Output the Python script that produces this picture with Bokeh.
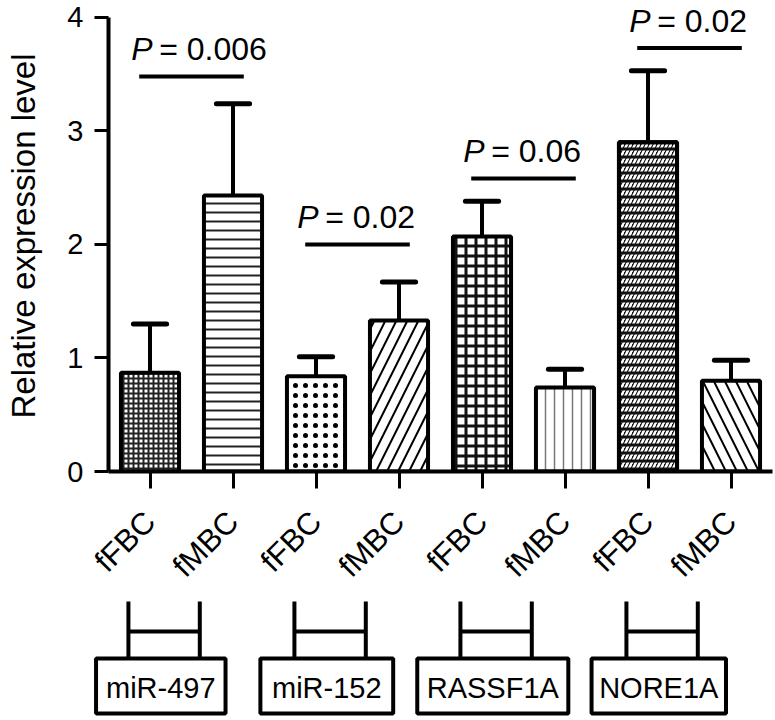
import math
from bokeh.plotting import figure
from bokeh.models import Range1d, FixedTicker, Label
from bokeh.core.properties import value
from bokeh.embed import file_html
from bokeh.resources import INLINE

# ---------------- data ----------------
groups = ["miR-497", "miR-152", "RASSF1A", "NORE1A"]
bar_labels = ["fFBC", "fMBC", "fFBC", "fMBC", "fFBC", "fMBC", "fFBC", "fMBC"]
means = [0.87, 2.43, 0.84, 1.33, 2.07, 0.74, 2.90, 0.80]
errors = [0.43, 0.81, 0.17, 0.34, 0.31, 0.16, 0.63, 0.18]
p_values = ["0.006", "0.02", "0.06", "0.02"]
p_line_y = [3.48, 2.00, 2.58, 3.73]
y_ticks = [0, 1, 2, 3, 4]

# ---------------- styles ----------------
FONT = "Liberation Sans"
hatch_patterns = ["cross", "horizontal_line", "dot", "right_diagonal_line",
                  "cross", "vertical_line", "right_diagonal_line", "left_diagonal_line"]
hatch_scales = [5, 9, 10, 22, 10, 9, 8, 22]
hatch_weights = [2.0, 2.0, 4.0, 2.0, 3.0, 1.5, 2.5, 2.0]
hatch_colors = ["#222222", "#222222", "black", "black", "#111111", "#777777", "white", "black"]
fill_colors = ["white", "white", "white", "white", "white", "white", "#111111", "white"]
# second hatch layer (None = no overlay)
overlay_patterns = [None, None, None, None, None, None, "horizontal_line", None]

W = 775
LEFT, RIGHT, BOTTOM = 108, 3, 124
AXIS_TOP_PX = 17          # where the top tick (4) sits
FRAME_H = 475             # frame runs from the canvas top to the x axis
H1 = FRAME_H + BOTTOM
H2 = 720 - H1

xs = list(range(1, len(means) + 1))
x_start, x_end = 0.5, len(means) + 0.5
y_start, y_top = 0, 4
ppu_y = (FRAME_H - AXIS_TOP_PX) / (y_top - y_start)
y_end = y_top + AXIS_TOP_PX / ppu_y

p = figure(width=W, height=H1, x_range=Range1d(x_start, x_end), y_range=Range1d(y_start, y_end),
           output_backend="svg", toolbar_location=None,
           min_border_left=LEFT, min_border_right=RIGHT, min_border_top=0,
           min_border_bottom=BOTTOM)
p.outline_line_color = None
p.xgrid.grid_line_color = None
p.ygrid.grid_line_color = None

# y axis
ya = p.yaxis[0]
ya.ticker = FixedTicker(ticks=y_ticks)
ya.bounds = (y_start, y_top)
ya.axis_label = "Relative expression level"
ya.axis_label_text_font = FONT
ya.axis_label_text_font_size = "33px"
ya.axis_label_text_font_style = "normal"
ya.axis_label_text_color = "black"
ya.axis_label_standoff = 22
ya.major_label_text_font = FONT
ya.major_label_text_font_size = "29px"
ya.major_label_text_color = "black"
ya.major_label_standoff = 11
ya.axis_line_width = 4
ya.axis_line_color = "black"
ya.major_tick_line_width = 3
ya.major_tick_out = 14
ya.major_tick_in = 0
ya.minor_tick_line_color = None

# x axis
xa = p.xaxis[0]
xa.ticker = FixedTicker(ticks=xs)
xa.major_label_overrides = {x: lab for x, lab in zip(xs, bar_labels)}
xa.major_label_orientation = math.pi / 4
xa.major_label_text_font = FONT
xa.major_label_text_font_size = "31px"
xa.major_label_text_color = "black"
xa.major_label_standoff = 28
xa.axis_line_width = 4
xa.axis_line_color = "black"
xa.major_tick_line_width = 3
xa.major_tick_out = 17
xa.major_tick_in = 0
xa.minor_tick_line_color = None

# error bars (upper only)
tops = [m + e for m, e in zip(means, errors)]
p.segment(x0=xs, y0=means, x1=xs, y1=tops, line_color="black", line_width=4)
p.segment(x0=[x - 0.2 for x in xs], y0=tops, x1=[x + 0.2 for x in xs], y1=tops,
          line_color="black", line_width=5, line_cap="round")

# bars
for i, x in enumerate(xs):
    p.vbar(x=[x], top=[means[i]], bottom=0, width=0.7,
           fill_color=fill_colors[i], line_color="black", line_width=4,
           hatch_pattern=hatch_patterns[i], hatch_scale=hatch_scales[i],
           hatch_weight=hatch_weights[i], hatch_color=hatch_colors[i])
    if overlay_patterns[i]:
        p.vbar(x=[x], top=[means[i]], bottom=0, width=0.7,
               fill_alpha=0, line_color="black", line_width=4,
               hatch_pattern=overlay_patterns[i], hatch_scale=8,
               hatch_weight=3, hatch_color="#111111")

# significance lines and p-values
half = 0.63
text_gap = 0.24
for g, (pv, ly) in enumerate(zip(p_values, p_line_y)):
    mid = (xs[2 * g] + xs[2 * g + 1]) / 2
    p.segment(x0=[mid - half], y0=[ly], x1=[mid + half], y1=[ly],
              line_color="black", line_width=4)
    p.add_layout(Label(x=mid - half, y=ly + text_gap, x_offset=-8, text="P",
                       text_font=FONT, text_font_style="italic", text_font_size="32px",
                       text_baseline="alphabetic", text_align="left", text_color="black"))
    p.add_layout(Label(x=mid - half, y=ly + text_gap, x_offset=20, text="= " + pv,
                       text_font=FONT, text_font_size="32px",
                       text_baseline="alphabetic", text_align="left", text_color="black"))

# ---------------- lower figure: brackets and group boxes ----------------
ppu_x = (W - LEFT - RIGHT) / (x_end - x_start)
p2 = figure(width=W, height=H2,
            x_range=Range1d(x_start - LEFT / ppu_x, x_end + RIGHT / ppu_x),
            y_range=Range1d(H2, 0), output_backend="svg", toolbar_location=None,
            min_border_left=0, min_border_right=0, min_border_top=0, min_border_bottom=0,
            x_axis_location=None, y_axis_location=None)
p2.outline_line_color = None
p2.grid.visible = False

bracket_shift = -0.33
bracket_half = 0.43
box_shift = -0.37
box_half = [0.78, 0.80, 0.91, 0.81]
br_top, br_mid, box_top, box_bot = 2, 32, 59, 114

centers = [(xs[2 * g] + xs[2 * g + 1]) / 2 for g in range(len(groups))]
bl = [c + bracket_shift - bracket_half for c in centers]
brr = [c + bracket_shift + bracket_half for c in centers]
n = len(groups)
p2.segment(x0=bl + brr, y0=[br_top] * (2 * n), x1=bl + brr, y1=[box_top] * (2 * n),
           line_color="black", line_width=4)
p2.segment(x0=bl, y0=[br_mid] * n, x1=brr, y1=[br_mid] * n,
           line_color="black", line_width=4)
bc = [c + box_shift for c in centers]
p2.quad(left=[c - h for c, h in zip(bc, box_half)], right=[c + h for c, h in zip(bc, box_half)],
        top=[box_top] * n, bottom=[box_bot] * n,
        fill_color="white", line_color="black", line_width=4)
p2.text(x=bc, y=[(box_top + box_bot) / 2 + 2] * n, text=groups,
        text_font=value(FONT), text_font_size="29px", text_align="center",
        text_baseline="middle", text_color="black")

open("out.html", "w").write(file_html([p, p2], INLINE))
